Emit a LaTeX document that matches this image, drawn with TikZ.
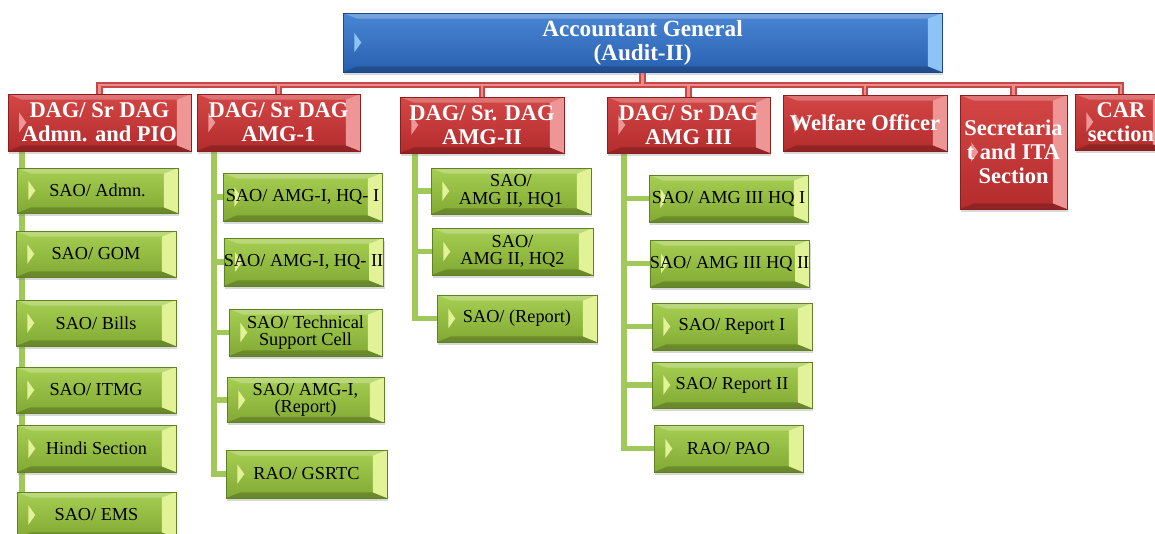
\documentclass[tikz,border=0pt]{standalone}
\usepackage{fontspec}
\setmainfont{Liberation Serif}
\usetikzlibrary{shadows, backgrounds}

\definecolor{agtop}{RGB}{74,134,212}
\definecolor{agbot}{RGB}{40,96,176}
\definecolor{agedge}{RGB}{30,70,140}
\definecolor{agbev}{RGB}{140,196,245}
\definecolor{dgtop}{RGB}{212,70,70}
\definecolor{dgbot}{RGB}{180,44,44}
\definecolor{dgedge}{RGB}{140,30,30}
\definecolor{dgbev}{RGB}{238,150,150}
\definecolor{sotop}{RGB}{166,206,82}
\definecolor{sobot}{RGB}{130,170,52}
\definecolor{soedge}{RGB}{95,130,40}
\definecolor{sobev}{RGB}{226,242,150}
\definecolor{rlink}{RGB}{200,70,70}
\definecolor{rlinkin}{RGB}{232,140,140}
\definecolor{glink}{RGB}{160,200,90}

\begin{document}
\begin{tikzpicture}[x=0.025cm, y=-0.025cm,
		sz/.style 2 args = {minimum width=#1*0.025cm, minimum height=#2*0.025cm},
		bev/.style = {path picture = {
				\path (path picture bounding box.south west) coordinate (p1)
				      (path picture bounding box.north east) coordinate (p2)
				      (path picture bounding box.south east) coordinate (p3)
				      (path picture bounding box.north west) coordinate (p4);
				\fill[white, opacity=0.25] (p4) -- (p2) -- ([shift={(-10pt,-4pt)}]p2) -- ([shift={(10pt,-4pt)}]p4) -- cycle;
				\fill[black, opacity=0.2] (p1) -- (p3) -- ([shift={(-10pt,4pt)}]p3) -- ([shift={(10pt,4pt)}]p1) -- cycle;
				\fill[#1] (p2) -- (p3) -- ([shift={(-10pt,4pt)}]p3) -- ([shift={(-10pt,-4pt)}]p2) -- cycle;
				\fill[#1] ([shift={(8pt,7pt)}]path picture bounding box.west) -- ++(5pt,-7pt) -- ++(-5pt,-7pt) -- cycle;
			}},
		boxbase/.style = {align=center, inner sep=0pt, draw, thin,
			drop shadow={shadow xshift=1pt, shadow yshift=-2pt, opacity=0.3}},
		agbox/.style = {boxbase, draw=agedge, top color=agtop, bottom color=agbot, bev=agbev,
			text=white, font=\bfseries\fontsize{16.5}{17}\selectfont},
		dagbox/.style = {boxbase, draw=dgedge, top color=dgtop, bottom color=dgbot, bev=dgbev,
			text=white, font=\bfseries\fontsize{16}{17}\selectfont},
		saobox/.style = {boxbase, draw=soedge, top color=sotop, bottom color=sobot, bev=sobev,
			text=black, font=\fontsize{13}{12.5}\selectfont},
		rout/.style = {rlink, line width=4.5pt},
		rin/.style = {rlinkin, line width=2pt},
		gline/.style = {glink, line width=4pt}
	]
	\useasboundingbox (0,0) rectangle (1155,533);
	\clip (0,0) rectangle (1155,533);
	\coordinate (bar) at (0,85);

	\node[agbox, sz={599}{59}] (ag) at (642.5,42.5) {Accountant General\\(Audit-II)};

	\node[dagbox, sz={183}{57}] (dag1) at (99.5,122.5) {DAG/ Sr DAG\\Admn. and PIO};
	\node[dagbox, sz={163}{57}] (amg1) at (278.5,122.5) {DAG/ Sr DAG\\AMG-1};
	\node[dagbox, sz={164}{56}] (amg2) at (482,125) {DAG/ Sr. DAG\\AMG-II};
	\node[dagbox, sz={163}{56}] (amg3) at (688.5,125) {DAG/ Sr DAG\\AMG III};
	\node[dagbox, sz={164}{56}] (welf) at (865,123) {Welfare Officer};
	\node[dagbox, sz={107}{114}] (secr) at (1013.5,152) {Secretaria\\t and ITA\\Section};
	\node[dagbox, sz={92}{56}] (car) at (1121,122) {CAR\\section};

	\node[saobox, sz={161}{45}] (g11) at (97.5,190.5) {SAO/ Admn.};
	\node[saobox, sz={160}{46}] (g12) at (96,254) {SAO/ GOM};
	\node[saobox, sz={160}{46}] (g13) at (96,323) {SAO/ Bills};
	\node[saobox, sz={160}{46}] (g14) at (96,390) {SAO/ ITMG};
	\node[saobox, sz={159}{47}] (g15) at (96.5,448.5) {Hindi Section};
	\node[saobox, sz={159}{46}] (g16) at (96.5,515) {SAO/ EMS};

	\node[saobox, sz={159}{48}] (g21) at (302.5,197) {SAO/ AMG-I, HQ- I};
	\node[saobox, sz={159}{48}] (g22) at (303.5,262) {SAO/ AMG-I, HQ- II};
	\node[saobox, sz={153}{47}] (g23) at (305.5,332.5) {SAO/ Technical\\Support Cell};
	\node[saobox, sz={157}{45}] (g24) at (305.5,400) {SAO/ AMG-I,\\(Report)};
	\node[saobox, sz={161}{48}] (g25) at (306.5,474) {RAO/ GSRTC};

	\node[saobox, sz={160}{46}] (g31) at (511,191) {SAO/\\AMG II, HQ1};
	\node[saobox, sz={161}{47}] (g32) at (512.5,251.5) {SAO/\\AMG II, HQ2};
	\node[saobox, sz={160}{47}] (g33) at (517,318.5) {SAO/ (Report)};

	\node[saobox, sz={159}{47}] (g41) at (728.5,198.5) {SAO/ AMG III HQ I};
	\node[saobox, sz={159}{47}] (g42) at (729.5,263.5) {SAO/ AMG III HQ II};
	\node[saobox, sz={160}{47}] (g43) at (732,326.5) {SAO/ Report I};
	\node[saobox, sz={160}{46}] (g44) at (732,385) {SAO/ Report II};
	\node[saobox, sz={149}{47}] (g45) at (728.5,448.5) {RAO/ PAO};

	\begin{scope}[on background layer]
		\foreach \n in {dag1,amg1,amg2,amg3,welf,secr,car}
			\draw[rout] (ag.south) -- (ag.south |- bar) -| (\n.north);
		\foreach \n in {dag1,amg1,amg2,amg3,welf,secr,car}
			\draw[rin] (ag.south) -- (ag.south |- bar) -| (\n.north);
		\foreach \n in {g11,g12,g13,g14,g15,g16}
			\draw[gline] ([xshift=0.35cm]dag1.south west) |- (\n.west);
		\foreach \n in {g21,g22,g23,g24,g25}
			\draw[gline] ([xshift=0.425cm]amg1.south west) |- (\n.west);
		\foreach \n in {g31,g32,g33}
			\draw[gline] ([xshift=0.375cm]amg2.south west) |- (\n.west);
		\foreach \n in {g41,g42,g43,g44,g45}
			\draw[gline] ([xshift=0.425cm]amg3.south west) |- (\n.west);
	\end{scope}
\end{tikzpicture}
\end{document}
